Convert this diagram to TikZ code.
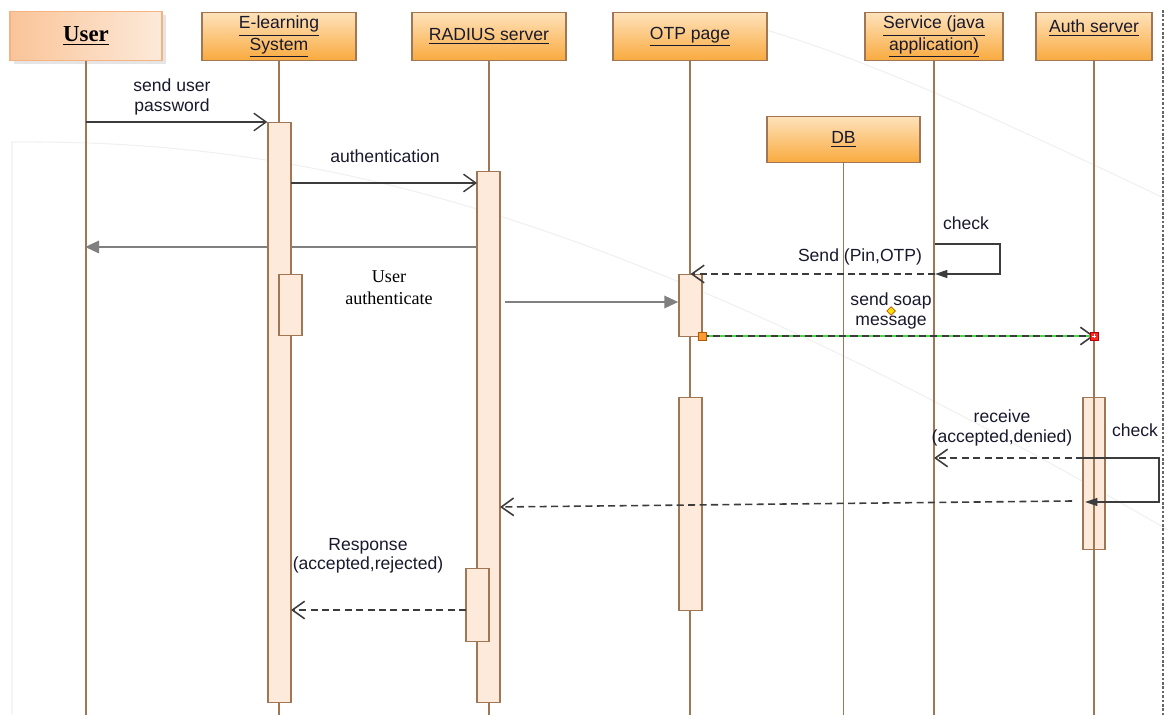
\documentclass[tikz,border=0pt]{standalone}
\usepackage{fontspec}
\setmainfont{Liberation Sans}
\newfontfamily\timesface{Liberation Serif}
\usetikzlibrary{arrows.meta,positioning,shadows,shapes.geometric}

\begin{document}
\begin{tikzpicture}[x=0.02cm, y=-0.02cm]

% Define colors
\definecolor{lifebrown}{RGB}{160,118,84}
\definecolor{headtop}{RGB}{254,226,186}
\definecolor{headbot}{RGB}{249,170,62}
\definecolor{userleft}{RGB}{250,196,152}
\definecolor{userright}{RGB}{253,234,218}
\definecolor{userline}{RGB}{246,178,128}
\definecolor{actfill}{RGB}{253,234,218}
\definecolor{msggray}{RGB}{60,60,60}
\definecolor{retgray}{RGB}{128,128,128}
\definecolor{selgreen}{RGB}{70,215,70}
\definecolor{labelink}{RGB}{25,25,45}

\tikzset{
  head/.style={draw=lifebrown, line width=0.8pt, top color=headtop, bottom color=headbot,
    minimum height=0.96cm, anchor=north, inner sep=1pt, align=center,
    text=labelink, font=\fontsize{10}{12}\selectfont},
  lifeline/.style={draw=lifebrown, line width=0.7pt},
  act/.style={draw=lifebrown, fill=actfill, line width=0.8pt, minimum width=0.46cm,
    anchor=north, inner sep=0pt},
  msg/.style={draw=msggray, line width=0.8pt, -{Straight Barb[length=7pt,width=10pt]}},
  reply/.style={msg, line width=0.9pt, dash pattern=on 4pt off 2.5pt},
  back/.style={draw=retgray, line width=1.4pt, -{Triangle[length=8pt,width=7pt]}},
  selfcall/.style={draw=msggray, line width=0.8pt, -{Triangle[length=7pt,width=4.5pt]}},
  lbl/.style={font=\fontsize{10}{11}\selectfont, align=center, text=labelink},
  faint/.style={draw=gray!12, line width=0.6pt}
}

% Helper for the lifeline heads
\newcommand{\lifehead}[4]{%
    % #1 = node name, #2 = x position, #3 = width, #4 = title
    \node[head, minimum width=#3] (#1) at (#2,12) {#4};
}

\useasboundingbox (0,0) rectangle (1168,715);

% Faint background strokes
\draw[faint] (12,715) -- (12,142) .. controls (300,140) and (600,200) .. (1168,530);
\draw[faint] (730,20) .. controls (850,50) and (1000,120) .. (1168,200);

% Frame edge on the right
\draw[gray!80!black, line width=0.8pt, dash pattern=on 1.5pt off 1pt] (1163,10) -- (1163,715);

% Heads
\node[draw=userline, line width=0.8pt, left color=userleft, right color=userright,
      minimum width=3.04cm, minimum height=0.98cm, anchor=north,
      drop shadow={shadow xshift=2pt, shadow yshift=-2pt, fill=gray!40}]
      (user) at (86,11) {\timesface\bfseries\fontsize{13}{15}\selectfont\underline{User}};
\lifehead{elrn}{279}{3.08cm}{\underline{E-learning}\\\underline{System}}
\lifehead{rad}{489}{3.08cm}{\underline{RADIUS server}}
\lifehead{otp}{690}{3.08cm}{\underline{OTP page}}
\lifehead{svc}{934}{2.76cm}{\underline{Service (java}\\\underline{application)}}
\lifehead{auth}{1094}{2.32cm}{\underline{Auth server}\\\mbox{}}
\node[head, minimum width=3.06cm, minimum height=0.92cm] (db) at (843.5,116) {\underline{DB}};

% Lifelines
\coordinate (bottom) at (0,715);
\foreach \n in {user,elrn,rad,otp,db,svc,auth}
    \draw[lifeline] (\n.south) -- (\n.south |- bottom);

% Reply from RADIUS runs behind the E-learning bar
\coordinate (rad-back) at (477,247);
\coordinate (user-back) at (85,247);
\draw[back] (rad-back) -- (user-back);

% Activation bars
\node[act, minimum height=11.6cm] (elrn-act) at (279.5,122) {};
\node[act, minimum height=1.22cm] (elrn-sub) at (290.5,274) {};
\node[act, minimum height=10.62cm] (rad-act) at (488.5,171) {};
\node[act, minimum height=1.46cm] (rad-sub) at (477.5,568) {};
\node[act, minimum height=1.24cm] (otp-act) at (690.5,274) {};
\node[act, minimum height=4.26cm] (otp-act2) at (690.5,397) {};
\node[act, minimum width=0.44cm, minimum height=3.04cm] (auth-act) at (1094,397) {};
\draw[lifeline] (auth-act.north) -- (auth-act.south);

% Messages
\draw[msg] (user.south |- elrn-act.north) -- (elrn-act.north west);
\node[lbl] (m-pass) at (172,97) {send user\\password};

\coordinate (auth-a) at (291,183);
\coordinate (auth-b) at (477,183);
\draw[msg] (auth-a) -- (auth-b);
\node[lbl] (m-authn) at (385,156) {authentication};

\coordinate (ua-a) at (505,302);
\draw[back] (ua-a) -- (otp-act.west |- ua-a);
\node[font=\timesface\fontsize{10.3}{12.5}\selectfont, align=center, text=black] (m-ua) at (389,288) {User\\authenticate};

% Self call on the service
\coordinate (svc-a) at (935,244);
\coordinate (svc-b) at (935,274);
\draw[selfcall] (svc-a) -- ++(65,0) -- ++(0,30) -- (svc-b);
\node[lbl] (m-chk1) at (966,223) {check};

\draw[reply] (svc-b) -- (otp-act.north);
\node[lbl] (m-pin) at (860,257) {Send (Pin,OTP)};

% Soap message, shown selected
\coordinate (soap-a) at (702,336);
\coordinate (soap-b) at (1094,336);
\draw[selgreen, line width=1.1pt] (soap-a) -- (soap-b);
\draw[reply] (soap-a) -- (soap-b);
\node[lbl] (m-soap) at (891,311) {send soap\\message};
\node[diamond, draw=orange!70!black, fill=yellow!80!orange, inner sep=0pt,
      minimum size=5pt, line width=0.4pt] (soap-mid) at (891,311) {};
\node[draw=orange!70!black, fill=orange!80, inner sep=0pt, minimum size=4.5pt,
      line width=0.4pt] (soap-src) at (soap-a) {};
\node[draw=red!70!black, fill=red!85, inner sep=0pt, minimum size=4.5pt,
      line width=0.4pt] (soap-dst) at (soap-b) {};
\draw[white, line width=0.4pt] ([xshift=-1.2pt]soap-dst.center) -- ([xshift=1.2pt]soap-dst.center)
      ([yshift=-1.2pt]soap-dst.center) -- ([yshift=1.2pt]soap-dst.center);

% Self call on the auth server
\coordinate (chk-a) at (1083,458);
\coordinate (chk-b) at (1085,502);
\draw[selfcall] (chk-a) -- (1159,458) -- (1159,502) -- (chk-b);
\node[lbl] (m-chk2) at (1135,430) {check};

\draw[reply] (chk-a) -- (svc.south |- chk-a);
\node[lbl] (m-recv) at (1002,428) {receive\\(accepted,denied)};

\coordinate (res-a) at (1072,501);
\coordinate (res-b) at (500,507);
\draw[reply] (res-a) -- (res-b);

\coordinate (resp-a) at (466,610);
\coordinate (resp-b) at (291,610);
\draw[reply] (resp-a) -- (resp-b);
\node[lbl] (m-resp) at (368,556) {Response\\(accepted,rejected)};

\end{tikzpicture}
\end{document}
